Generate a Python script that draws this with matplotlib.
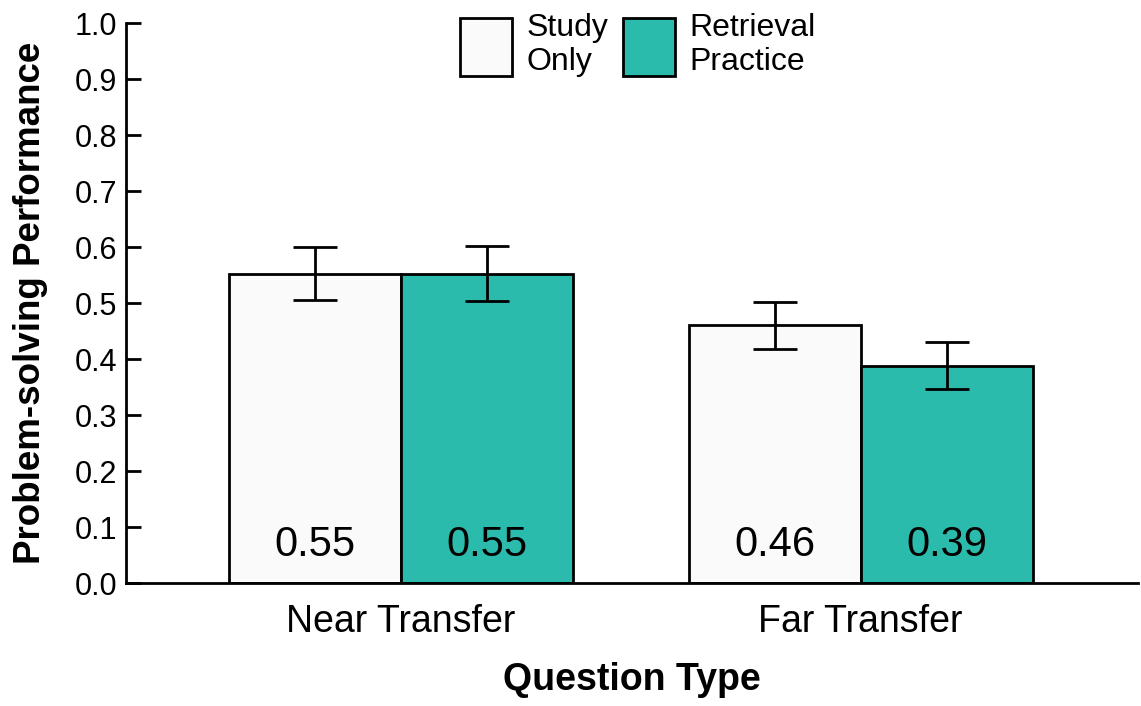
import numpy as np
import matplotlib.pyplot as plt

plt.rcParams['font.family'] = ['Liberation Sans', 'DejaVu Sans']

question_types = ['Near Transfer', 'Far Transfer']
conditions = ['Study\nOnly', 'Retrieval\nPractice']
study_only = [0.553, 0.461]
retrieval = [0.553, 0.388]
study_err = [0.047, 0.042]
retrieval_err = [0.049, 0.042]

colors = ['#fafafa', '#2bbbad']

fig = plt.figure(figsize=(11.41, 7.06), dpi=100)
ax = fig.add_axes([0.110, 0.174, 0.887, 0.793])

x = np.arange(len(question_types))
w = 0.374
err_kw = dict(ecolor='black', elinewidth=2, capsize=16, capthick=2)

b1 = ax.bar(x - w / 2, study_only, w, yerr=study_err, color=colors[0],
            edgecolor='black', linewidth=2, label=conditions[0], error_kw=err_kw)
b2 = ax.bar(x + w / 2, retrieval, w, yerr=retrieval_err, color=colors[1],
            edgecolor='black', linewidth=2, label=conditions[1], error_kw=err_kw)

for bars, vals in [(b1, study_only), (b2, retrieval)]:
    for rect, v in zip(bars, vals):
        ax.text(rect.get_x() + rect.get_width() / 2, 0.068, f'{v:.2f}',
                ha='center', va='center', fontsize=30)

ax.set_xlim(-0.598, 1.602)
ax.set_ylim(0, 1.0)
ax.set_yticks(np.arange(0, 1.01, 0.1))
ax.set_yticklabels([f'{t:.1f}' for t in np.arange(0, 1.01, 0.1)])
ax.set_xticks(x)
ax.set_xticklabels(question_types)

ax.spines['top'].set_visible(False)
ax.spines['right'].set_visible(False)
ax.spines['left'].set_linewidth(2)
ax.spines['bottom'].set_linewidth(2)
ax.tick_params(axis='y', direction='in', length=11, width=2, labelsize=22, pad=6)
ax.tick_params(axis='x', length=0, labelsize=27, pad=15)

ax.set_ylabel('Problem-solving Performance', fontsize=26.5, fontweight='bold', labelpad=19)
ax.set_xlabel('Question Type', fontsize=27, fontweight='bold', labelpad=16)

ax.legend(loc='upper center', bbox_to_anchor=(0.506, 1.07), ncol=2, frameon=False,
          fontsize=23, handlelength=1.63, handleheight=2.4, handletextpad=0.45,
          columnspacing=0.45, labelspacing=0.2)

fig.savefig('out.png', dpi=100)
